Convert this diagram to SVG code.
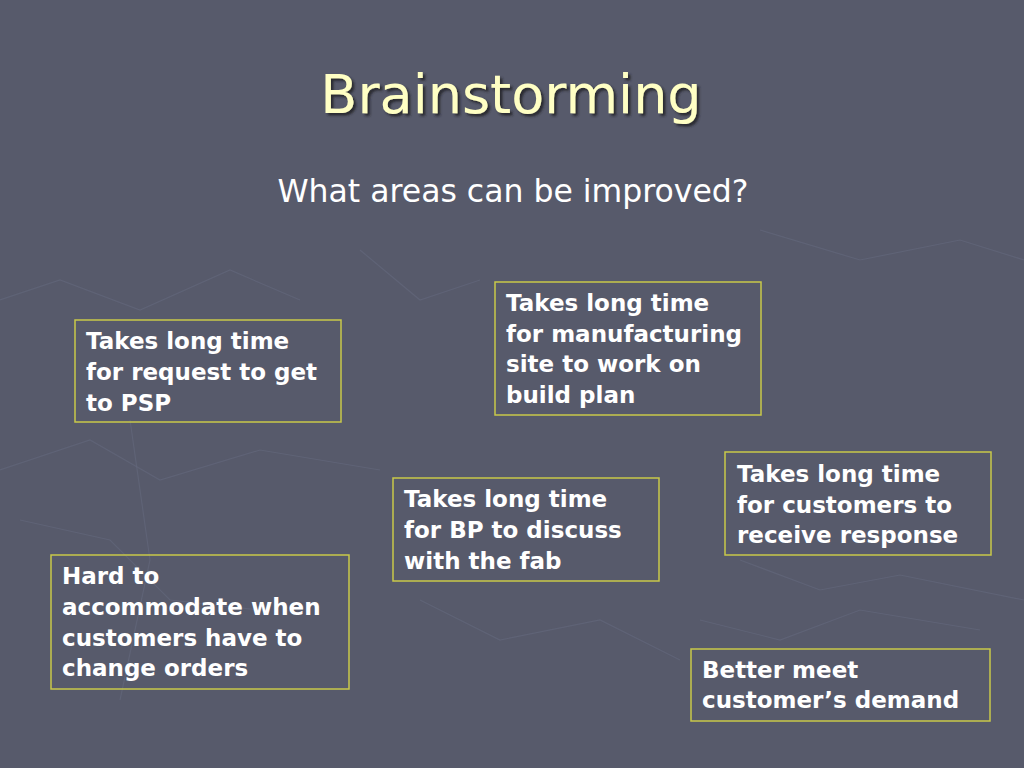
<svg xmlns="http://www.w3.org/2000/svg" width="1024" height="768" viewBox="0 0 1024 768">
<defs>
<style>
.bg{fill:#575a6b}
.deco{fill:none;stroke:#63667a;stroke-width:1.2;opacity:0.7}
.box{fill:none;stroke:#c9c94a;stroke-width:1.5}
.t{font-family:"DejaVu Sans","Liberation Sans",sans-serif;font-weight:bold;font-size:23px;fill:#ffffff}
.title{font-family:"DejaVu Sans","Liberation Sans",sans-serif;font-size:54px;fill:#ffffc4}
.sub{font-family:"DejaVu Sans","Liberation Sans",sans-serif;font-size:31.5px;fill:#ffffff}
</style>
<filter id="shadow" x="-10%" y="-30%" width="120%" height="160%">
<feDropShadow dx="2.5" dy="2.5" stdDeviation="0.8" flood-color="#202228" flood-opacity="0.9"/>
</filter>
</defs>
<rect class="bg" x="0" y="0" width="1024" height="768"/>
<g id="background-map">
<path class="deco" d="M0 300 L60 280 L140 310 L230 270 L300 300"/>
<path class="deco" d="M0 470 L90 440 L160 480 L260 450 L380 470"/>
<path class="deco" d="M130 420 L150 560 L120 700"/>
<path class="deco" d="M20 520 L110 540 L170 600 L260 610"/>
<path class="deco" d="M740 560 L820 590 L900 575 L1024 600"/>
<path class="deco" d="M700 620 L780 640 L860 610 L980 630"/>
<path class="deco" d="M760 230 L860 260 L960 240 L1024 260"/>
<path class="deco" d="M360 250 L420 300 L480 280"/>
<path class="deco" d="M420 600 L500 640 L600 620 L680 660"/>
</g>
<g id="title">
<text class="title" x="511" y="113" text-anchor="middle" filter="url(#shadow)">Brainstorming</text>
</g>
<g id="subtitle">
<text class="sub" x="513" y="202" text-anchor="middle">What areas can be improved?</text>
</g>
<g id="node-request-psp">
<rect class="box" x="75" y="320" width="266" height="102"/>
<text class="t" x="86" y="349">Takes long time</text>
<text class="t" x="86" y="380">for request to get</text>
<text class="t" x="86" y="411">to PSP</text>
</g>
<g id="node-manufacturing">
<rect class="box" x="495" y="282" width="266" height="133"/>
<text class="t" x="506" y="311">Takes long time</text>
<text class="t" x="506" y="342">for manufacturing</text>
<text class="t" x="506" y="372">site to work on</text>
<text class="t" x="506" y="403">build plan</text>
</g>
<g id="node-customers-response">
<rect class="box" x="725" y="452" width="266" height="103"/>
<text class="t" x="737" y="482">Takes long time</text>
<text class="t" x="737" y="513">for customers to</text>
<text class="t" x="737" y="543">receive response</text>
</g>
<g id="node-bp-fab">
<rect class="box" x="393" y="478" width="266" height="103"/>
<text class="t" x="404" y="507">Takes long time</text>
<text class="t" x="404" y="538">for BP to discuss</text>
<text class="t" x="404" y="569">with the fab</text>
</g>
<g id="node-change-orders">
<rect class="box" x="51" y="555" width="298" height="134"/>
<text class="t" x="62" y="584">Hard to</text>
<text class="t" x="62" y="615">accommodate when</text>
<text class="t" x="62" y="646">customers have to</text>
<text class="t" x="62" y="676">change orders</text>
</g>
<g id="node-demand">
<rect class="box" x="691" y="649" width="299" height="72"/>
<text class="t" x="702" y="678">Better meet</text>
<text class="t" x="702" y="708">customer’s demand</text>
</g>
<g id="connectors"/>
</svg>
